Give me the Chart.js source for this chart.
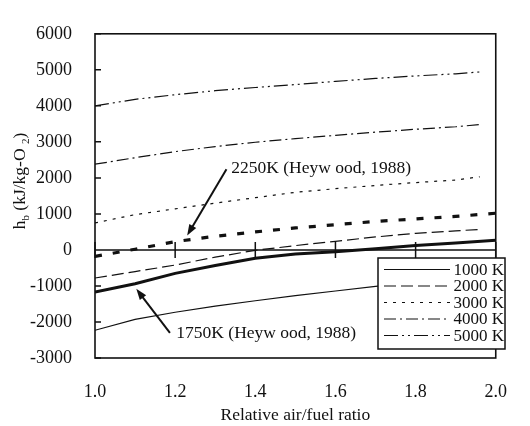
<!DOCTYPE html>
<html>
<head>
<meta charset="utf-8">
<script src="https://cdn.jsdelivr.net/npm/chart.js@4.4.0/dist/chart.umd.min.js"></script>
<style>
  html, body { margin: 0; padding: 0; background: #fff; }
  #wrap { width: 530px; height: 426px; }
</style>
</head>
<body>
<div id="wrap"><canvas id="chart" width="530" height="426"></canvas></div>
<script>
// relative air/fuel ratio (x values)
const lambdaCalc = [1.0, 1.1, 1.2, 1.3, 1.4, 1.5, 1.6, 1.7, 1.8, 1.9, 1.96];
const lambdaHey  = [1.0, 1.1, 1.2, 1.3, 1.4, 1.5, 1.6, 1.7, 1.8, 1.9, 2.0];

// h_b in kJ/kg-O2
const h1000 = [-2230, -1930, -1730, -1560, -1410, -1270, -1140, -1010, -900, -800, -740];
const h2000 = [-780, -600, -420, -200, -10, 120, 240, 360, 460, 530, 570];
const h3000 = [750, 980, 1140, 1300, 1450, 1600, 1700, 1790, 1870, 1940, 2030];
const h4000 = [2380, 2560, 2730, 2870, 2990, 3090, 3180, 3270, 3350, 3420, 3480];
const h5000 = [4000, 4180, 4310, 4420, 4510, 4590, 4680, 4760, 4830, 4890, 4940];
const hHey2250 = [-180, 20, 230, 380, 500, 610, 700, 790, 860, 930, 1020];
const hHey1750 = [-1170, -940, -650, -430, -230, -110, -50, 30, 120, 190, 270];

const xTicks = [1.0, 1.2, 1.4, 1.6, 1.8, 2.0];
const yTicks = [-3000, -2000, -1000, 0, 1000, 2000, 3000, 4000, 5000, 6000];

const legendLabels = ['1000 K', '2000 K', '3000 K', '4000 K', '5000 K'];

// notes: text anchor and arrow (from -> tip) in data units
const notes = [
  { text: '2250K (Heyw ood, 1988)', at: [1.34, 2270], from: [1.328, 2240], tip: [1.23, 400] },
  { text: '1750K (Heyw ood, 1988)', at: [1.203, -2330], from: [1.187, -2300], tip: [1.103, -1080] }
];

const FONT = '"Liberation Serif", "Times New Roman", serif';
const INK = '#111';

const toPts = (xs, ys) => ys.map((y, i) => ({ x: xs[i], y }));

const dashes = {
  d1000: [],
  d2000: [12, 5],
  d3000: [3, 6],
  d4000: [12, 4, 2, 4],
  d5000: [14, 4, 2, 4, 2, 4],
  dHey: [7, 11]
};

function ds(label, xs, ys, dash, width) {
  return {
    label, data: toPts(xs, ys), borderColor: INK, borderWidth: width,
    borderDash: dash, pointRadius: 0, tension: 0, fill: false
  };
}

const datasets = [
  ds('1000 K', lambdaCalc, h1000, dashes.d1000, 1.2),
  ds('2000 K', lambdaCalc, h2000, dashes.d2000, 1.2),
  ds('3000 K', lambdaCalc, h3000, dashes.d3000, 1.2),
  ds('4000 K', lambdaCalc, h4000, dashes.d4000, 1.2),
  ds('5000 K', lambdaCalc, h5000, dashes.d5000, 1.2),
  ds('2250K Heywood', lambdaHey, hHey2250, dashes.dHey, 3.2),
  ds('1750K Heywood', lambdaHey, hHey1750, [], 3)
];

function arrow(ctx, x1, y1, x2, y2) {
  const a = Math.atan2(y2 - y1, x2 - x1);
  const len = 11, w = 4;
  ctx.beginPath();
  ctx.moveTo(x1, y1);
  ctx.lineTo(x2 - Math.cos(a) * len * 0.8, y2 - Math.sin(a) * len * 0.8);
  ctx.lineWidth = 2;
  ctx.stroke();
  ctx.beginPath();
  ctx.moveTo(x2, y2);
  ctx.lineTo(x2 - Math.cos(a) * len + Math.sin(a) * w, y2 - Math.sin(a) * len - Math.cos(a) * w);
  ctx.lineTo(x2 - Math.cos(a) * len - Math.sin(a) * w, y2 - Math.sin(a) * len + Math.cos(a) * w);
  ctx.closePath();
  ctx.fill();
}

const decor = {
  id: 'decor',
  afterDatasetsDraw(chart) {
    const { ctx, chartArea: ca, scales: { x, y } } = chart;
    ctx.save();
    ctx.strokeStyle = INK;
    ctx.fillStyle = INK;
    ctx.setLineDash([]);

    // frame
    ctx.lineWidth = 1.6;
    ctx.strokeRect(ca.left, ca.top, ca.right - ca.left, ca.bottom - ca.top);

    // zero line with crossing ticks
    const y0 = y.getPixelForValue(0);
    ctx.lineWidth = 1.5;
    ctx.beginPath();
    ctx.moveTo(ca.left, y0);
    ctx.lineTo(ca.right, y0);
    xTicks.forEach(v => {
      const px = x.getPixelForValue(v);
      ctx.moveTo(px, y0 - 8);
      ctx.lineTo(px, y0 + 8);
    });
    // inward ticks on the left axis
    yTicks.forEach(v => {
      const py = y.getPixelForValue(v);
      ctx.moveTo(ca.left, py);
      ctx.lineTo(ca.left + 6, py);
    });
    ctx.stroke();

    // notes
    ctx.font = '17.5px ' + FONT;
    ctx.textBaseline = 'middle';
    ctx.textAlign = 'left';
    notes.forEach(n => {
      ctx.fillText(n.text, x.getPixelForValue(n.at[0]), y.getPixelForValue(n.at[1]));
      arrow(ctx, x.getPixelForValue(n.from[0]), y.getPixelForValue(n.from[1]),
        x.getPixelForValue(n.tip[0]), y.getPixelForValue(n.tip[1]));
    });

    // legend box
    const lx = 378, ly = 258, lw = 127, lh = 91;
    ctx.fillStyle = '#fff';
    ctx.fillRect(lx, ly, lw, lh);
    ctx.lineWidth = 1.5;
    ctx.strokeRect(lx, ly, lw, lh);
    ctx.fillStyle = INK;
    ctx.textAlign = 'right';
    ctx.font = '17px ' + FONT;
    legendLabels.forEach((lab, i) => {
      const d = chart.data.datasets[i];
      const ry = ly + 11.5 + i * 16.5;
      ctx.save();
      ctx.beginPath();
      ctx.setLineDash(d.borderDash);
      ctx.lineWidth = d.borderWidth;
      ctx.moveTo(lx + 6, ry);
      ctx.lineTo(lx + 72, ry);
      ctx.stroke();
      ctx.restore();
      ctx.fillText(lab, lx + lw - 1, ry + 1);
    });

    // y title with subscripts
    ctx.save();
    ctx.translate(25, 181);
    ctx.rotate(-Math.PI / 2);
    ctx.textAlign = 'left';
    ctx.textBaseline = 'alphabetic';
    const big = '17.5px ' + FONT, small = '11px ' + FONT;
    const parts = [['h', big, 0], ['b', small, 4], [' (kJ/kg-O ', big, 0], ['2', small, 4], [')', big, 0]];
    let total = 0;
    parts.forEach(p => { ctx.font = p[1]; total += ctx.measureText(p[0]).width; });
    let cx = -total / 2;
    parts.forEach(p => {
      ctx.font = p[1];
      ctx.fillText(p[0], cx, p[2]);
      cx += ctx.measureText(p[0]).width;
    });
    ctx.restore();

    ctx.restore();
  }
};

new Chart(document.getElementById('chart'), {
  type: 'line',
  data: { datasets },
  options: {
    responsive: false,
    animation: false,
    layout: { padding: { top: 23, right: 17, left: 0, bottom: 0 } },
    plugins: { legend: { display: false }, tooltip: { enabled: false } },
    scales: {
      x: {
        type: 'linear', min: 1, max: 2,
        afterBuildTicks: s => { s.ticks = xTicks.map(v => ({ value: v })); },
        afterFit: s => { s.height = 68; },
        grid: { display: false, drawTicks: false },
        border: { display: false },
        ticks: { color: INK, font: { family: FONT, size: 18 }, padding: 23, callback: v => v.toFixed(1) },
        title: { display: true, text: 'Relative air/fuel ratio', color: INK, font: { family: FONT, size: 17.5 }, padding: { top: 0, bottom: 0 } }
      },
      y: {
        min: -3000, max: 6000,
        afterBuildTicks: s => { s.ticks = yTicks.map(v => ({ value: v })); },
        afterFit: s => { s.width = 95; },
        grid: { display: false, drawTicks: false },
        border: { display: false },
        ticks: { color: INK, font: { family: FONT, size: 18 }, padding: 23, callback: v => String(v) }
      }
    }
  },
  plugins: [decor]
});
</script>
</body>
</html>
